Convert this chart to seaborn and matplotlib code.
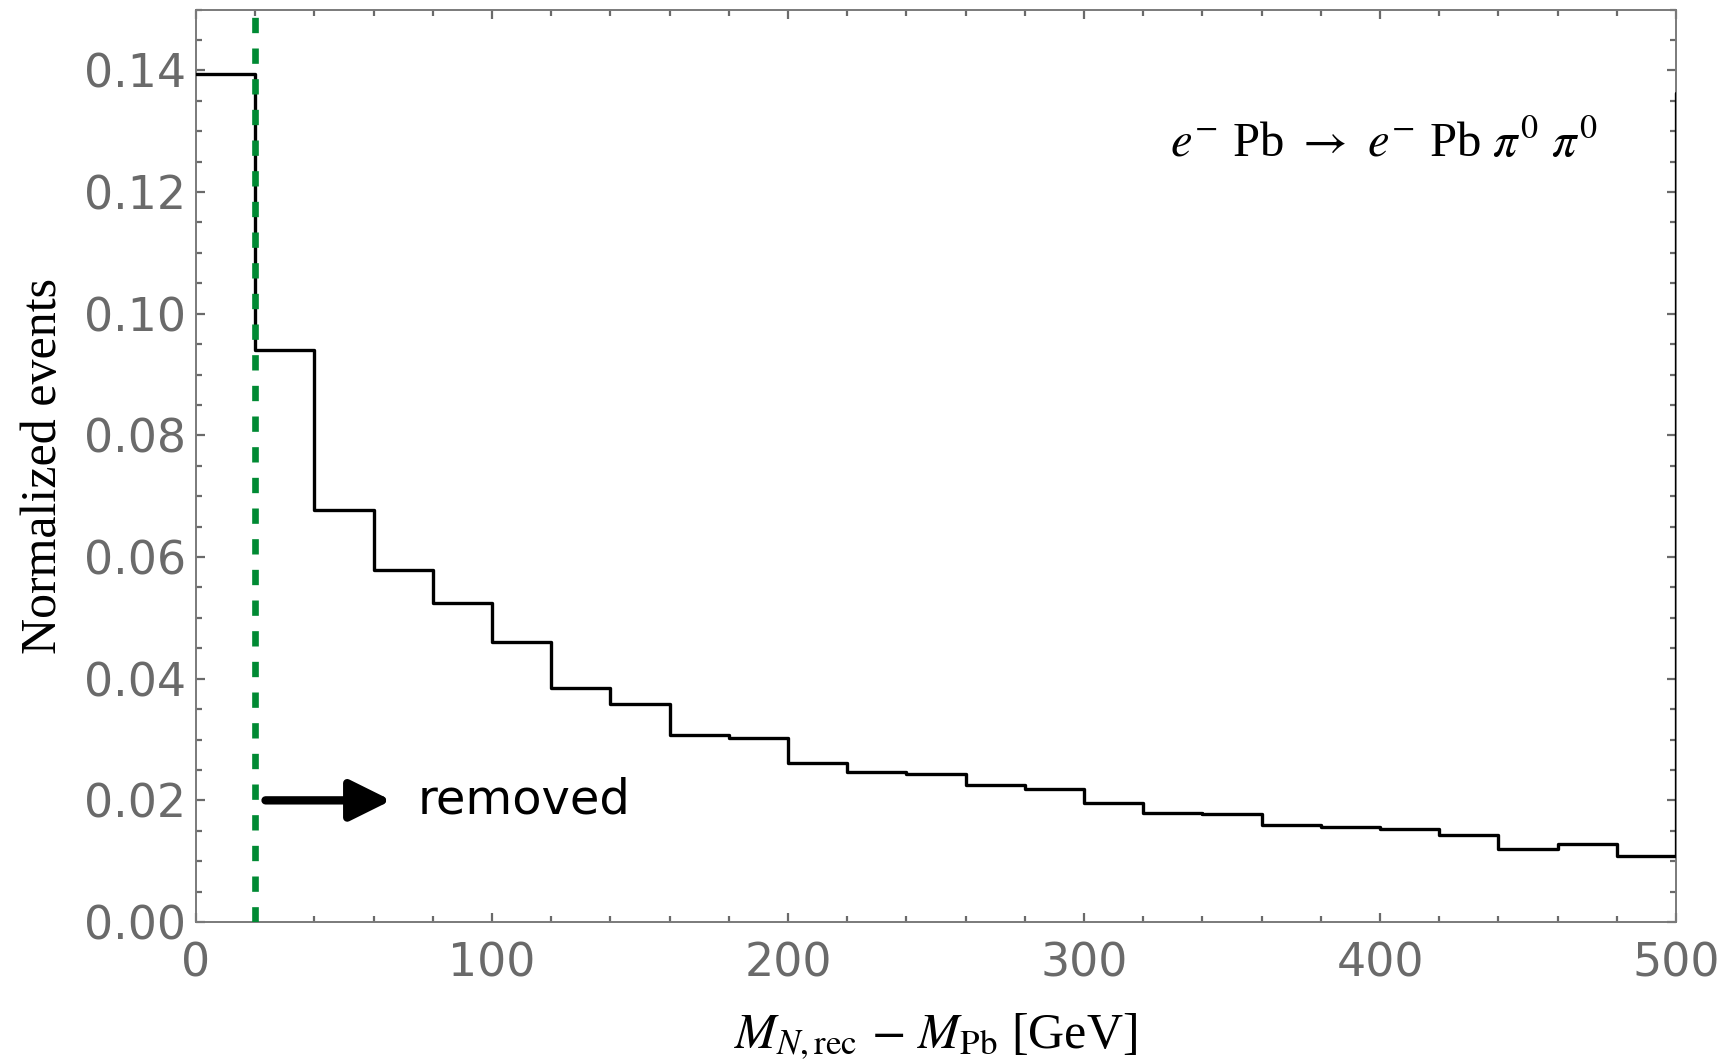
import numpy as np
import pandas as pd
import matplotlib
matplotlib.use("Agg")
import matplotlib.pyplot as plt
from matplotlib.ticker import MultipleLocator
import seaborn as sns

# ---- data ----
bin_width = 20
bin_left = list(range(0, 520, 20))  # last bin (500-520) is overflow, clipped by x-limits
values = [0.1394, 0.0941, 0.0677, 0.0579, 0.0525, 0.0460, 0.0385, 0.0358,
          0.0307, 0.0302, 0.0261, 0.0247, 0.0243, 0.0226, 0.0218, 0.0196,
          0.0180, 0.0178, 0.0159, 0.0156, 0.0153, 0.0143, 0.0120, 0.0128,
          0.0109, 0.1363]
cut_value = 20
x_ticks = [0, 100, 200, 300, 400, 500]
y_ticks = [0.00, 0.02, 0.04, 0.06, 0.08, 0.10, 0.12, 0.14]
process_label = r"$e^{-}$ Pb $\rightarrow$ $e^{-}$ Pb $\pi^{0}$ $\pi^{0}$"
xlabel = r"$M_{N,\mathrm{rec}}$ $-$ $M_{\mathrm{Pb}}$ [GeV]"
ylabel = "Normalized events"
annot_text = "removed"

sns.set_theme(style="ticks")
plt.rcParams["font.family"] = ["DejaVu Sans"]
plt.rcParams["mathtext.fontset"] = "stix"

df = pd.DataFrame({"center": np.array(bin_left, dtype=float) + bin_width / 2,
                   "w": values})

fig = plt.figure(figsize=(8.67, 5.31), dpi=200)
ax = fig.add_axes([0.113, 0.1318, 0.8536, 0.8592])

sns.histplot(data=df, x="center", weights="w", binwidth=bin_width,
             binrange=(bin_left[0], bin_left[-1] + bin_width), element="step",
             fill=False, color="black", linewidth=1.2, ax=ax, zorder=2.6)

ax.axvline(cut_value, color="#008A33", lw=2.4, ls=(0, (2.3, 2.3)), zorder=3)

ax.annotate("", xy=(66, 0.02), xytext=(23.5, 0.02),
            arrowprops=dict(arrowstyle="-|>,head_length=1.25,head_width=0.62",
                            lw=3.0, color="black", shrinkA=0, shrinkB=0,
                            mutation_scale=10), zorder=4)
ax.text(75, 0.02, annot_text, fontsize=17.3, color="black", va="center", ha="left")

ax.text(329, 0.128, process_label, fontsize=17.5, family="Liberation Serif",
        va="center", ha="left", color="black")

ax.set_xlim(0, 500)
ax.set_ylim(0, 0.15)
ax.set_xticks(x_ticks)
ax.set_yticks(y_ticks)
ax.set_yticklabels([f"{v:.2f}" for v in y_ticks])
ax.xaxis.set_minor_locator(MultipleLocator(20))
ax.yaxis.set_minor_locator(MultipleLocator(0.005))

gray = "#6a6a6a"
for s in ax.spines.values():
    s.set_visible(True)
    s.set_color("#7a7a7a")
    s.set_linewidth(0.7)
ax.tick_params(which="both", direction="in", top=True, right=True, color=gray,
               labelcolor=gray, width=0.8)
ax.tick_params(which="major", length=3.2, labelsize=16.5)
ax.tick_params(which="minor", length=2.0)
ax.tick_params(axis="x", which="major", pad=7)
ax.tick_params(axis="y", which="major", pad=3.5)

ax.set_xlabel(xlabel, fontsize=18, family="Liberation Serif", color="black", labelpad=9)
ax.set_ylabel(ylabel, fontsize=18, family="Liberation Serif", color="black", labelpad=6)

fig.savefig("out.png", dpi=200)
